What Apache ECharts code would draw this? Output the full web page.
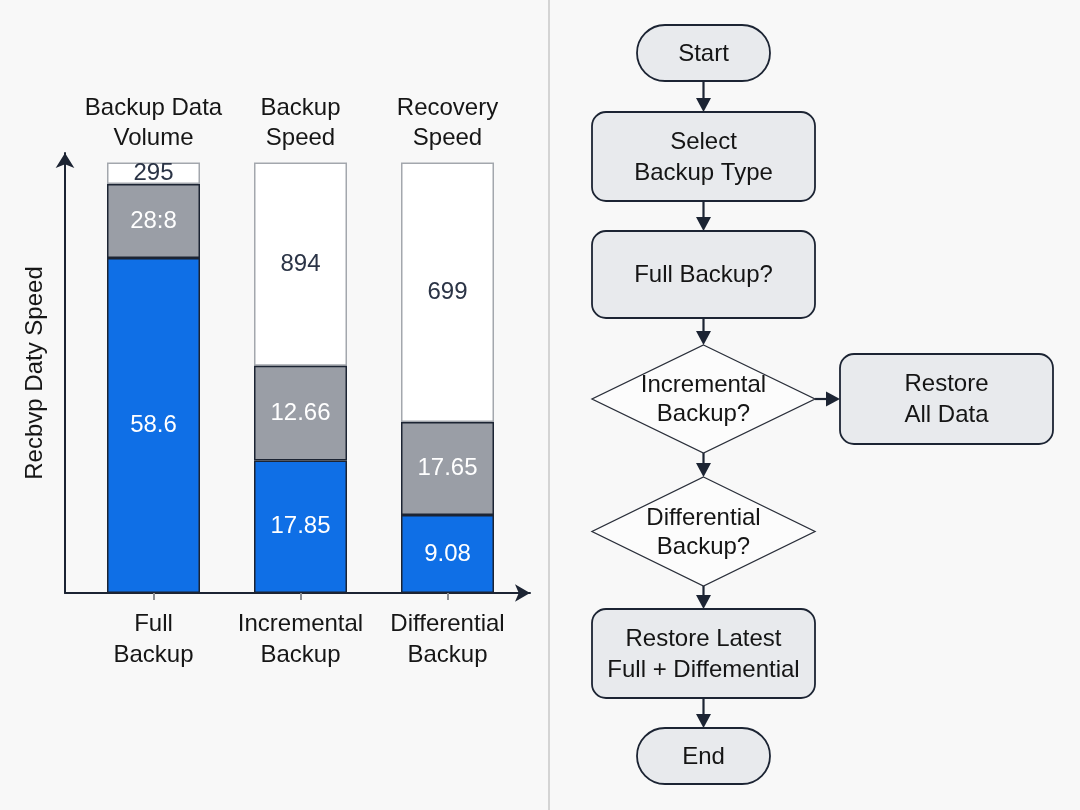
<!DOCTYPE html>
<html><head><meta charset="utf-8">
<script src="https://cdn.jsdelivr.net/npm/echarts@6/dist/echarts.min.js"></script>
<style>html,body{margin:0;padding:0;background:#f8f8f8;} #chart{width:1080px;height:810px;}</style>
</head><body><div id="chart"></div>
<script>
// ---- data ----
const categories = ['Full\nBackup', 'Incremental\nBackup', 'Differential\nBackup'];
const metricHeaders = ['Backup Data\nVolume', 'Backup\nSpeed', 'Recovery\nSpeed'];
const blueHeights = [77.8, 30.8, 18.1];
const grayHeights = [17.2, 22.0, 21.6];
const whiteHeights = [5.0, 47.2, 60.3];
const blueLabels = ['58.6', '17.85', '9.08'];
const grayLabels = ['28:8', '12.66', '17.65'];
const whiteLabels = ['295', '894', '699'];
const yAxisTitle = 'Recbvp Daty Speed';
const flowSteps = ['Start', 'Select\nBackup Type', 'Full Backup?', 'Incremental\nBackup?', 'Differential\nBackup?', 'Restore Latest\nFull + Diffemential', 'End'];
const sideStep = 'Restore\nAll Data';

// ---- styles ----
const FONT = 'Liberation Sans, Arial, Helvetica, sans-serif';
const DARK = '#1c2433';
const BOX_FILL = '#e8eaed';

const chart = echarts.init(document.getElementById('chart'), null, {renderer: 'canvas'});

function labelCfg(texts, color) {
  return {show: true, position: 'inside', formatter: p => texts[p.dataIndex],
    color: color, fontSize: 24, fontFamily: FONT};
}

// ---- flowchart graphics ----
const cx = 703.5;
const g = [];
function rbox(x, y, w, h, r, text) {
  g.push({type: 'rect', shape: {x, y, width: w, height: h, r},
    style: {fill: BOX_FILL, stroke: DARK, lineWidth: 1.8}, z: 10});
  g.push({type: 'text', style: {text, x: x + w / 2, y: y + h / 2 + 1, align: 'center', verticalAlign: 'middle',
    fontSize: 24, fontFamily: FONT, lineHeight: 31, fill: '#151515'}, z: 11});
}
function diamond(cy, hw, hh, text) {
  g.push({type: 'polygon', shape: {points: [[cx, cy - hh], [cx + hw, cy], [cx, cy + hh], [cx - hw, cy]]},
    style: {fill: '#fcfcfc', stroke: '#2a2f3a', lineWidth: 1.3}, z: 10});
  g.push({type: 'text', style: {text, x: cx, y: cy + 1, align: 'center', verticalAlign: 'middle',
    fontSize: 24, fontFamily: FONT, lineHeight: 29, fill: '#151515'}, z: 11});
}
function vArrow(y1, y2) {
  g.push({type: 'line', shape: {x1: cx, y1, x2: cx, y2: y2 - 10}, style: {stroke: DARK, lineWidth: 2.2}, z: 9});
  g.push({type: 'polygon', shape: {points: [[cx - 7.5, y2 - 14], [cx + 7.5, y2 - 14], [cx, y2]]}, style: {fill: DARK}, z: 9});
}
function hArrow(x1, x2, y) {
  g.push({type: 'line', shape: {x1, y1: y, x2: x2 - 10, y2: y}, style: {stroke: DARK, lineWidth: 2.2}, z: 9});
  g.push({type: 'polygon', shape: {points: [[x2 - 14, y - 7.5], [x2 - 14, y + 7.5], [x2, y]]}, style: {fill: DARK}, z: 9});
}
// divider
g.push({type: 'line', shape: {x1: 549, y1: 0, x2: 549, y2: 810}, style: {stroke: '#c9c9c9', lineWidth: 1.5}});

rbox(637, 25, 133, 56, 28, flowSteps[0]);
vArrow(81, 112);
rbox(592, 112, 223, 89, 14, flowSteps[1]);
vArrow(201, 231);
rbox(592, 231, 223, 87, 14, flowSteps[2]);
vArrow(318, 345);
diamond(399, 111.5, 54, flowSteps[3]);
hArrow(815, 840, 399);
rbox(840, 354, 213, 90, 14, sideStep);
vArrow(453, 477);
diamond(531.5, 111.5, 54.5, flowSteps[4]);
vArrow(586, 609);
rbox(592, 609, 223, 89, 14, flowSteps[5]);
vArrow(698, 728);
rbox(637, 728, 133, 56, 28, flowSteps[6]);

const option = {
  backgroundColor: '#f8f8f8',
  animation: false,
  grid: [
    {left: 80, top: 162.5, width: 441, height: 430.5, containLabel: false},
    {left: 65, top: 153, width: 465, height: 440, containLabel: false}
  ],
  xAxis: [
    {gridIndex: 0, type: 'category', data: categories, position: 'bottom',
      axisLine: {show: false}, axisTick: {show: true, alignWithLabel: true, length: 7, lineStyle: {color: '#8a8d93', width: 2}},
      axisLabel: {color: '#161616', fontSize: 24, fontFamily: FONT, lineHeight: 31, margin: 16, interval: 0}},
    {gridIndex: 0, type: 'category', data: metricHeaders, position: 'top',
      axisLine: {show: false}, axisTick: {show: false},
      axisLabel: {color: '#161616', fontSize: 24, fontFamily: FONT, lineHeight: 30, margin: 9, interval: 0}},
    {gridIndex: 1, type: 'value', min: 0, max: 1,
      axisLine: {show: true, onZero: false, symbol: ['none', 'arrow'], symbolSize: [13, 15], lineStyle: {color: DARK, width: 2}},
      axisTick: {show: false}, axisLabel: {show: false}, splitLine: {show: false}}
  ],
  yAxis: [
    {gridIndex: 0, type: 'value', min: 0, max: 100, show: false, splitLine: {show: false}},
    {gridIndex: 1, type: 'value', min: 0, max: 1,
      name: yAxisTitle, nameLocation: 'middle', nameGap: 18,
      nameTextStyle: {color: '#161616', fontSize: 24, fontFamily: FONT},
      axisLine: {show: true, onZero: false, symbol: ['none', 'arrow'], symbolSize: [14, 15], lineStyle: {color: DARK, width: 2}},
      axisTick: {show: false}, axisLabel: {show: false}, splitLine: {show: false}}
  ],
  series: [
    {name: 'blue', type: 'bar', stack: 'total', xAxisIndex: 0, yAxisIndex: 0, barWidth: 93, z: 3,
      data: blueHeights, itemStyle: {color: '#0f6fe6', borderColor: DARK, borderWidth: 1.5},
      label: labelCfg(blueLabels, '#ffffff')},
    {name: 'gray', type: 'bar', stack: 'total', xAxisIndex: 0, yAxisIndex: 0, barWidth: 93, z: 3,
      data: grayHeights, itemStyle: {color: '#9a9ea6', borderColor: DARK, borderWidth: 1.5},
      label: labelCfg(grayLabels, '#ffffff')},
    {name: 'white', type: 'bar', stack: 'total', xAxisIndex: 0, yAxisIndex: 0, barWidth: 93, z: 2,
      data: whiteHeights, itemStyle: {color: '#ffffff', borderColor: '#a3a7ad', borderWidth: 1.5},
      label: labelCfg(whiteLabels, '#2b3446')}
  ],
  graphic: {elements: g}
};
chart.setOption(option);
</script>
</body></html>
